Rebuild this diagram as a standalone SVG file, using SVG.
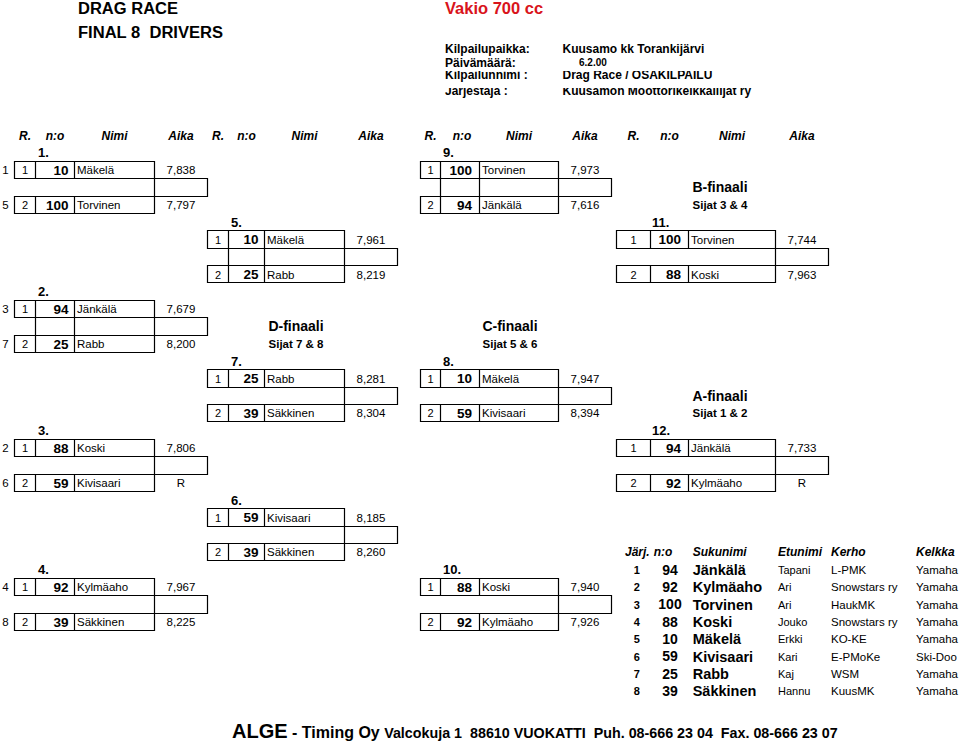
<svg xmlns="http://www.w3.org/2000/svg" width="960" height="743" viewBox="0 0 960 743">
<style>
text { font-family: "Liberation Sans", Arial, sans-serif; fill: #000; }
.ttl { font-size: 16px; font-weight: bold; }
.red { font-size: 16.5px; font-weight: bold; fill: #d9141b; }
.inf { font-size: 12px; font-weight: bold; }
.nm { font-size: 11.5px; }
.tm { font-size: 11.5px; text-anchor: middle; }
.rk { font-size: 11px; text-anchor: middle; }
.sd { font-size: 11.5px; text-anchor: middle; }
.no { font-size: 13.5px; font-weight: bold; text-anchor: end; }
.hd { font-size: 12px; font-weight: bold; font-style: italic; text-anchor: middle; }
.lb { font-size: 13px; font-weight: bold; }
.fin { font-size: 14px; font-weight: bold; text-anchor: middle; }
.sij { font-size: 11.5px; font-weight: bold; text-anchor: middle; }
.th { font-size: 12px; font-weight: bold; font-style: italic; }
.tj { font-size: 11px; font-weight: bold; text-anchor: middle; }
.tn { font-size: 14px; font-weight: bold; text-anchor: middle; }
.ts { font-size: 14.5px; font-weight: bold; }
.te { font-size: 11px; }
.tk { font-size: 11.5px; }
.box { fill: none; stroke: #000; stroke-width: 1.2; }
</style>
<defs>
<clipPath id="clipA"><rect x="440" y="71" width="520" height="12"/></clipPath>
<clipPath id="clipB"><rect x="440" y="88" width="520" height="12"/></clipPath>
</defs>
<rect width="960" height="743" fill="#fff"/>

<g id="title">
<text class="ttl" x="78" y="14" textLength="100" lengthAdjust="spacingAndGlyphs">DRAG RACE</text>
<text class="ttl" x="78" y="37.5" textLength="145" lengthAdjust="spacingAndGlyphs" style="white-space:pre">FINAL 8  DRIVERS</text>
<text class="red" x="445" y="14">Vakio 700 cc</text>
</g>

<g id="info">
<text class="inf" x="445" y="53">Kilpailupaikka:</text>
<text class="inf" x="562.5" y="53">Kuusamo kk Torankijärvi</text>
<text class="inf" x="445" y="67">Päivämäärä:</text>
<text class="inf" x="579" y="66" style="font-size:10px">6.2.00</text>
<g clip-path="url(#clipA)">
<text class="inf" x="445" y="78.5">Kilpailunnimi :</text>
<text class="inf" x="562.5" y="78.5">Drag Race / OSAKILPAILU</text>
</g>
<g clip-path="url(#clipB)">
<text class="inf" x="445" y="95">Järjestäjä :</text>
<text class="inf" x="562.5" y="95">Kuusamon Moottorikelkkailijat ry</text>
</g>
</g>

<g id="column-headers">
<text class="hd" x="25" y="139.6">R.</text><text class="hd" x="55" y="139.6">n:o</text><text class="hd" x="114.5" y="139.6">Nimi</text><text class="hd" x="181" y="139.6">Aika</text>
<text class="hd" x="218" y="139.6">R.</text><text class="hd" x="246.5" y="139.6">n:o</text><text class="hd" x="304.5" y="139.6">Nimi</text><text class="hd" x="371" y="139.6">Aika</text>
<text class="hd" x="430.5" y="139.6">R.</text><text class="hd" x="462" y="139.6">n:o</text><text class="hd" x="519" y="139.6">Nimi</text><text class="hd" x="585" y="139.6">Aika</text>
<text class="hd" x="633.5" y="139.6">R.</text><text class="hd" x="669.5" y="139.6">n:o</text><text class="hd" x="732" y="139.6">Nimi</text><text class="hd" x="802" y="139.6">Aika</text>
</g>

<g id="match-1">
<path class="box" d="M14.5 161.5H154.5V178.5H14.5Z M14.5 196.5H154.5V213.5H14.5Z M154.5 178.5H207.5V196.5H154.5Z M35.5 161.5V178.5M74.5 161.5V178.5M35.5 196.5V213.5M74.5 196.5V213.5"/>
<text class="lb" x="38" y="157.3">1.</text>
<text class="sd" x="5.5" y="174.2">1</text><text class="rk" x="25" y="174.2">1</text><text class="no" x="68.5" y="174.8">10</text><text class="nm" x="77" y="174.2">Mäkelä</text><text class="tm" x="181" y="174.2">7,838</text>
<text class="sd" x="5.5" y="209">5</text><text class="rk" x="25" y="209">2</text><text class="no" x="68.5" y="209.6">100</text><text class="nm" x="77" y="209">Torvinen</text><text class="tm" x="181" y="209">7,797</text>
</g>

<g id="match-2">
<path class="box" d="M14.5 300.5H154.5V317.5H14.5Z M14.5 335.5H154.5V352.5H14.5Z M154.5 317.5H207.5V335.5H154.5Z M35.5 300.5V352.5M74.5 300.5V352.5"/>
<text class="lb" x="38" y="296.3">2.</text>
<text class="sd" x="5.5" y="313.2">3</text><text class="rk" x="25" y="313.2">1</text><text class="no" x="68.5" y="313.8">94</text><text class="nm" x="77" y="313.2">Jänkälä</text><text class="tm" x="181" y="313.2">7,679</text>
<text class="sd" x="5.5" y="347.9">7</text><text class="rk" x="25" y="347.9">2</text><text class="no" x="68.5" y="348.5">25</text><text class="nm" x="77" y="347.9">Rabb</text><text class="tm" x="181" y="347.9">8,200</text>
</g>

<g id="match-3">
<path class="box" d="M14.5 439.5H154.5V456.5H14.5Z M14.5 474.5H154.5V491.5H14.5Z M154.5 456.5H207.5V474.5H154.5Z M35.5 439.5V456.5M74.5 439.5V456.5M35.5 474.5V491.5M74.5 474.5V491.5"/>
<text class="lb" x="38" y="435.2">3.</text>
<text class="sd" x="5.5" y="452.2">2</text><text class="rk" x="25" y="452.2">1</text><text class="no" x="68.5" y="452.8">88</text><text class="nm" x="77" y="452.2">Koski</text><text class="tm" x="181" y="452.2">7,806</text>
<text class="sd" x="5.5" y="486.9">6</text><text class="rk" x="25" y="486.9">2</text><text class="no" x="68.5" y="487.5">59</text><text class="nm" x="77" y="486.9">Kivisaari</text><text class="tm" x="181" y="486.9">R</text>
</g>

<g id="match-4">
<path class="box" d="M14.5 578.5H154.5V595.5H14.5Z M14.5 613.5H154.5V630.5H14.5Z M154.5 595.5H207.5V613.5H154.5Z M35.5 578.5V595.5M74.5 578.5V595.5M35.5 613.5V630.5M74.5 613.5V630.5"/>
<text class="lb" x="38" y="574.2">4.</text>
<text class="sd" x="5.5" y="591.1">4</text><text class="rk" x="25" y="591.1">1</text><text class="no" x="68.5" y="591.7">92</text><text class="nm" x="77" y="591.1">Kylmäaho</text><text class="tm" x="181" y="591.1">7,967</text>
<text class="sd" x="5.5" y="625.9">8</text><text class="rk" x="25" y="625.9">2</text><text class="no" x="68.5" y="626.5">39</text><text class="nm" x="77" y="625.9">Säkkinen</text><text class="tm" x="181" y="625.9">8,225</text>
</g>

<g id="match-5">
<path class="box" d="M207.5 230.5H344.5V248.5H207.5Z M207.5 265.5H344.5V282.5H207.5Z M344.5 248.5H397.5V265.5H344.5Z M228.5 230.5V282.5M264.5 230.5V282.5"/>
<text class="lb" x="231" y="226.8">5.</text>
<text class="rk" x="218" y="243.7">1</text><text class="no" x="258.5" y="244.3">10</text><text class="nm" x="267" y="243.7">Mäkelä</text><text class="tm" x="371" y="243.7">7,961</text>
<text class="rk" x="218" y="278.5">2</text><text class="no" x="258.5" y="279.1">25</text><text class="nm" x="267" y="278.5">Rabb</text><text class="tm" x="371" y="278.5">8,219</text>
</g>

<g id="match-7">
<path class="box" d="M207.5 369.5H344.5V387.5H207.5Z M207.5 404.5H344.5V421.5H207.5Z M344.5 387.5H397.5V404.5H344.5Z M228.5 369.5V387.5M264.5 369.5V387.5M228.5 404.5V421.5M264.5 404.5V421.5"/>
<text class="lb" x="231" y="365.8">7.</text>
<text class="rk" x="218" y="382.7">1</text><text class="no" x="258.5" y="383.3">25</text><text class="nm" x="267" y="382.7">Rabb</text><text class="tm" x="371" y="382.7">8,281</text>
<text class="rk" x="218" y="417.4">2</text><text class="no" x="258.5" y="418">39</text><text class="nm" x="267" y="417.4">Säkkinen</text><text class="tm" x="371" y="417.4">8,304</text>
</g>

<g id="match-6">
<path class="box" d="M207.5 508.5H344.5V526.5H207.5Z M207.5 543.5H344.5V560.5H207.5Z M344.5 526.5H397.5V543.5H344.5Z M228.5 508.5V526.5M264.5 508.5V526.5M228.5 543.5V560.5M264.5 543.5V560.5"/>
<text class="lb" x="231" y="504.7">6.</text>
<text class="rk" x="218" y="521.6">1</text><text class="no" x="258.5" y="522.2">59</text><text class="nm" x="267" y="521.6">Kivisaari</text><text class="tm" x="371" y="521.6">8,185</text>
<text class="rk" x="218" y="556.4">2</text><text class="no" x="258.5" y="557">39</text><text class="nm" x="267" y="556.4">Säkkinen</text><text class="tm" x="371" y="556.4">8,260</text>
</g>

<g id="match-9">
<path class="box" d="M420.5 161.5H558.5V178.5H420.5Z M420.5 196.5H558.5V213.5H420.5Z M558.5 178.5H611.5V196.5H558.5Z M440.5 161.5V213.5M479.5 161.5V213.5"/>
<text class="lb" x="443" y="157.3">9.</text>
<text class="rk" x="430.5" y="174.2">1</text><text class="no" x="472" y="174.8">100</text><text class="nm" x="482" y="174.2">Torvinen</text><text class="tm" x="585" y="174.2">7,973</text>
<text class="rk" x="430.5" y="209">2</text><text class="no" x="472" y="209.6">94</text><text class="nm" x="482" y="209">Jänkälä</text><text class="tm" x="585" y="209">7,616</text>
</g>

<g id="match-8">
<path class="box" d="M420.5 369.5H558.5V387.5H420.5Z M420.5 404.5H558.5V421.5H420.5Z M558.5 387.5H611.5V404.5H558.5Z M440.5 369.5V387.5M479.5 369.5V387.5M440.5 404.5V421.5M479.5 404.5V421.5"/>
<text class="lb" x="443" y="365.8">8.</text>
<text class="rk" x="430.5" y="382.7">1</text><text class="no" x="472" y="383.3">10</text><text class="nm" x="482" y="382.7">Mäkelä</text><text class="tm" x="585" y="382.7">7,947</text>
<text class="rk" x="430.5" y="417.4">2</text><text class="no" x="472" y="418">59</text><text class="nm" x="482" y="417.4">Kivisaari</text><text class="tm" x="585" y="417.4">8,394</text>
</g>

<g id="match-10">
<path class="box" d="M420.5 578.5H558.5V595.5H420.5Z M420.5 613.5H558.5V630.5H420.5Z M558.5 595.5H611.5V613.5H558.5Z M440.5 578.5V595.5M479.5 578.5V595.5M440.5 613.5V630.5M479.5 613.5V630.5"/>
<text class="lb" x="443" y="574.2">10.</text>
<text class="rk" x="430.5" y="591.1">1</text><text class="no" x="472" y="591.7">88</text><text class="nm" x="482" y="591.1">Koski</text><text class="tm" x="585" y="591.1">7,940</text>
<text class="rk" x="430.5" y="625.9">2</text><text class="no" x="472" y="626.5">92</text><text class="nm" x="482" y="625.9">Kylmäaho</text><text class="tm" x="585" y="625.9">7,926</text>
</g>

<g id="match-11">
<path class="box" d="M616.5 230.5H775.5V248.5H616.5Z M616.5 265.5H775.5V282.5H616.5Z M775.5 248.5H828.5V265.5H775.5Z M650.5 230.5V248.5M688.5 230.5V248.5M650.5 265.5V282.5M688.5 265.5V282.5"/>
<text class="lb" x="652" y="226.8">11.</text>
<text class="rk" x="633.5" y="243.7">1</text><text class="no" x="681" y="244.3">100</text><text class="nm" x="691" y="243.7">Torvinen</text><text class="tm" x="802" y="243.7">7,744</text>
<text class="rk" x="633.5" y="278.5">2</text><text class="no" x="681" y="279.1">88</text><text class="nm" x="691" y="278.5">Koski</text><text class="tm" x="802" y="278.5">7,963</text>
</g>

<g id="match-12">
<path class="box" d="M616.5 439.5H775.5V456.5H616.5Z M616.5 474.5H775.5V491.5H616.5Z M775.5 456.5H828.5V474.5H775.5Z M650.5 439.5V456.5M688.5 439.5V456.5M650.5 474.5V491.5M688.5 474.5V491.5"/>
<text class="lb" x="652" y="435.2">12.</text>
<text class="rk" x="633.5" y="452.2">1</text><text class="no" x="681" y="452.8">94</text><text class="nm" x="691" y="452.2">Jänkälä</text><text class="tm" x="802" y="452.2">7,733</text>
<text class="rk" x="633.5" y="486.9">2</text><text class="no" x="681" y="487.5">92</text><text class="nm" x="691" y="486.9">Kylmäaho</text><text class="tm" x="802" y="486.9">R</text>
</g>

<g id="final-labels">
<text class="fin" x="720" y="192.4">B-finaali</text><text class="sij" x="720" y="208.9">Sijat 3 &amp; 4</text>
<text class="fin" x="296" y="331.4">D-finaali</text><text class="sij" x="296" y="347.8">Sijat 7 &amp; 8</text>
<text class="fin" x="510" y="331.4">C-finaali</text><text class="sij" x="510" y="347.8">Sijat 5 &amp; 6</text>
<text class="fin" x="720" y="400.9">A-finaali</text><text class="sij" x="720" y="417.3">Sijat 1 &amp; 2</text>
</g>

<g id="results">
<text class="th" x="625" y="556.4">Järj.</text><text class="th" x="663" y="556.4" text-anchor="middle">n:o</text><text class="th" x="692.7" y="556.4">Sukunimi</text><text class="th" x="778" y="556.4">Etunimi</text><text class="th" x="831" y="556.4">Kerho</text><text class="th" x="916" y="556.4">Kelkka</text>
<text class="tj" x="636.7" y="573.8">1</text><text class="tn" x="670" y="574.6">94</text><text class="ts" x="692.7" y="574.8">Jänkälä</text><text class="te" x="778" y="573.8">Tapani</text><text class="tk" x="831" y="573.8">L-PMK</text><text class="tk" x="916" y="573.8">Yamaha</text>
<text class="tj" x="636.7" y="591.1">2</text><text class="tn" x="670" y="591.9">92</text><text class="ts" x="692.7" y="592.1">Kylmäaho</text><text class="te" x="778" y="591.1">Ari</text><text class="tk" x="831" y="591.1">Snowstars ry</text><text class="tk" x="916" y="591.1">Yamaha</text>
<text class="tj" x="636.7" y="608.5">3</text><text class="tn" x="670" y="609.3">100</text><text class="ts" x="692.7" y="609.5">Torvinen</text><text class="te" x="778" y="608.5">Ari</text><text class="tk" x="831" y="608.5">HaukMK</text><text class="tk" x="916" y="608.5">Yamaha</text>
<text class="tj" x="636.7" y="625.9">4</text><text class="tn" x="670" y="626.7">88</text><text class="ts" x="692.7" y="626.9">Koski</text><text class="te" x="778" y="625.9">Jouko</text><text class="tk" x="831" y="625.9">Snowstars ry</text><text class="tk" x="916" y="625.9">Yamaha</text>
<text class="tj" x="636.7" y="643.2">5</text><text class="tn" x="670" y="644">10</text><text class="ts" x="692.7" y="644.2">Mäkelä</text><text class="te" x="778" y="643.2">Erkki</text><text class="tk" x="831" y="643.2">KO-KE</text><text class="tk" x="916" y="643.2">Yamaha</text>
<text class="tj" x="636.7" y="660.6">6</text><text class="tn" x="670" y="661.4">59</text><text class="ts" x="692.7" y="661.6">Kivisaari</text><text class="te" x="778" y="660.6">Kari</text><text class="tk" x="831" y="660.6">E-PMoKe</text><text class="tk" x="916" y="660.6">Ski-Doo</text>
<text class="tj" x="636.7" y="678">7</text><text class="tn" x="670" y="678.8">25</text><text class="ts" x="692.7" y="679">Rabb</text><text class="te" x="778" y="678">Kaj</text><text class="tk" x="831" y="678">WSM</text><text class="tk" x="916" y="678">Yamaha</text>
<text class="tj" x="636.7" y="695.3">8</text><text class="tn" x="670" y="696.1">39</text><text class="ts" x="692.7" y="696.3">Säkkinen</text><text class="te" x="778" y="695.3">Hannu</text><text class="tk" x="831" y="695.3">KuusMK</text><text class="tk" x="916" y="695.3">Yamaha</text>
</g>

<g id="footer">
<text x="232" y="738" font-weight="bold" style="white-space:pre"><tspan font-size="20">ALGE</tspan><tspan font-size="16"> - Timing Oy </tspan><tspan font-size="14.3">Valcokuja 1  88610 VUOKATTI  Puh. 08-666 23 04  Fax. 08-666 23 07</tspan></text>
</g>
</svg>
